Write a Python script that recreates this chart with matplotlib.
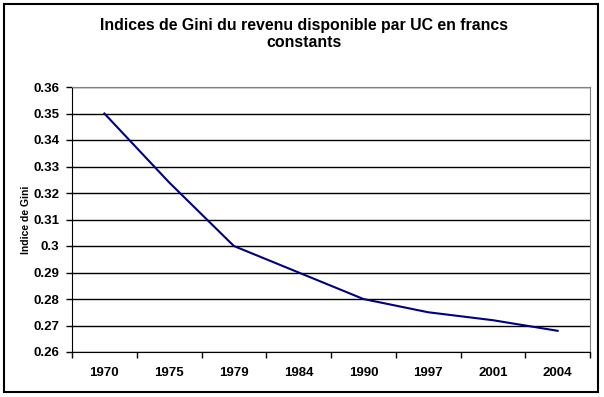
import matplotlib.pyplot as plt
import numpy as np
from matplotlib.patches import Rectangle
from matplotlib.ticker import FuncFormatter

plt.rcParams['font.family'] = ['Liberation Sans', 'DejaVu Sans']

# data
years = ['1970', '1975', '1979', '1984', '1990', '1997', '2001', '2004']
gini = [0.350, 0.324, 0.300, 0.290, 0.280, 0.275, 0.272, 0.268]

fig = plt.figure(figsize=(6.04, 3.97), dpi=100)
ax = fig.add_axes([72 / 604, 1 - 352 / 397, (590 - 72) / 604, (352 - 87) / 397])

x = np.arange(len(years))
ax.plot(x, gini, color='#000080', lw=1.5, zorder=3)

ax.set_xlim(-0.5, len(years) - 0.5)
ax.set_ylim(0.26, 0.36)
ax.set_yticks(np.arange(0.26, 0.3601, 0.01))
ax.yaxis.set_major_formatter(FuncFormatter(lambda v, p: '%g' % round(v, 2)))
ax.grid(axis='y', color='black', lw=1)
ax.set_axisbelow(True)

ax.set_xticks(x)
ax.set_xticklabels(years)
ax.set_xticks(np.arange(-0.5, len(years)), minor=True)
ax.tick_params(axis='x', which='major', length=0, pad=11)
ax.tick_params(axis='x', which='minor', length=4, direction='out', width=1)
ax.tick_params(axis='y', length=4, direction='out', width=1, pad=5)
for lab in ax.get_xticklabels() + ax.get_yticklabels():
    lab.set_fontweight('bold')
    lab.set_fontsize(9.5)

for s in ['top', 'right']:
    ax.spines[s].set_color('#808080')
for s in ['left', 'bottom']:
    ax.spines[s].set_color('black')

ax.set_ylabel('Indice de Gini', fontsize=7.5, fontweight='bold', labelpad=2)

fig.text(0.503, 0.955, 'Indices de Gini du revenu disponible par UC en francs\nconstants',
         ha='center', va='top', fontsize=11.4, fontweight='bold', linespacing=1.2)

fig.patches.append(Rectangle((4 / 604, 5 / 397), 594 / 604, 388 / 397,
                             transform=fig.transFigure, fill=False,
                             edgecolor='black', lw=1.5))

fig.savefig('out.png', dpi=100)
plt.close()
